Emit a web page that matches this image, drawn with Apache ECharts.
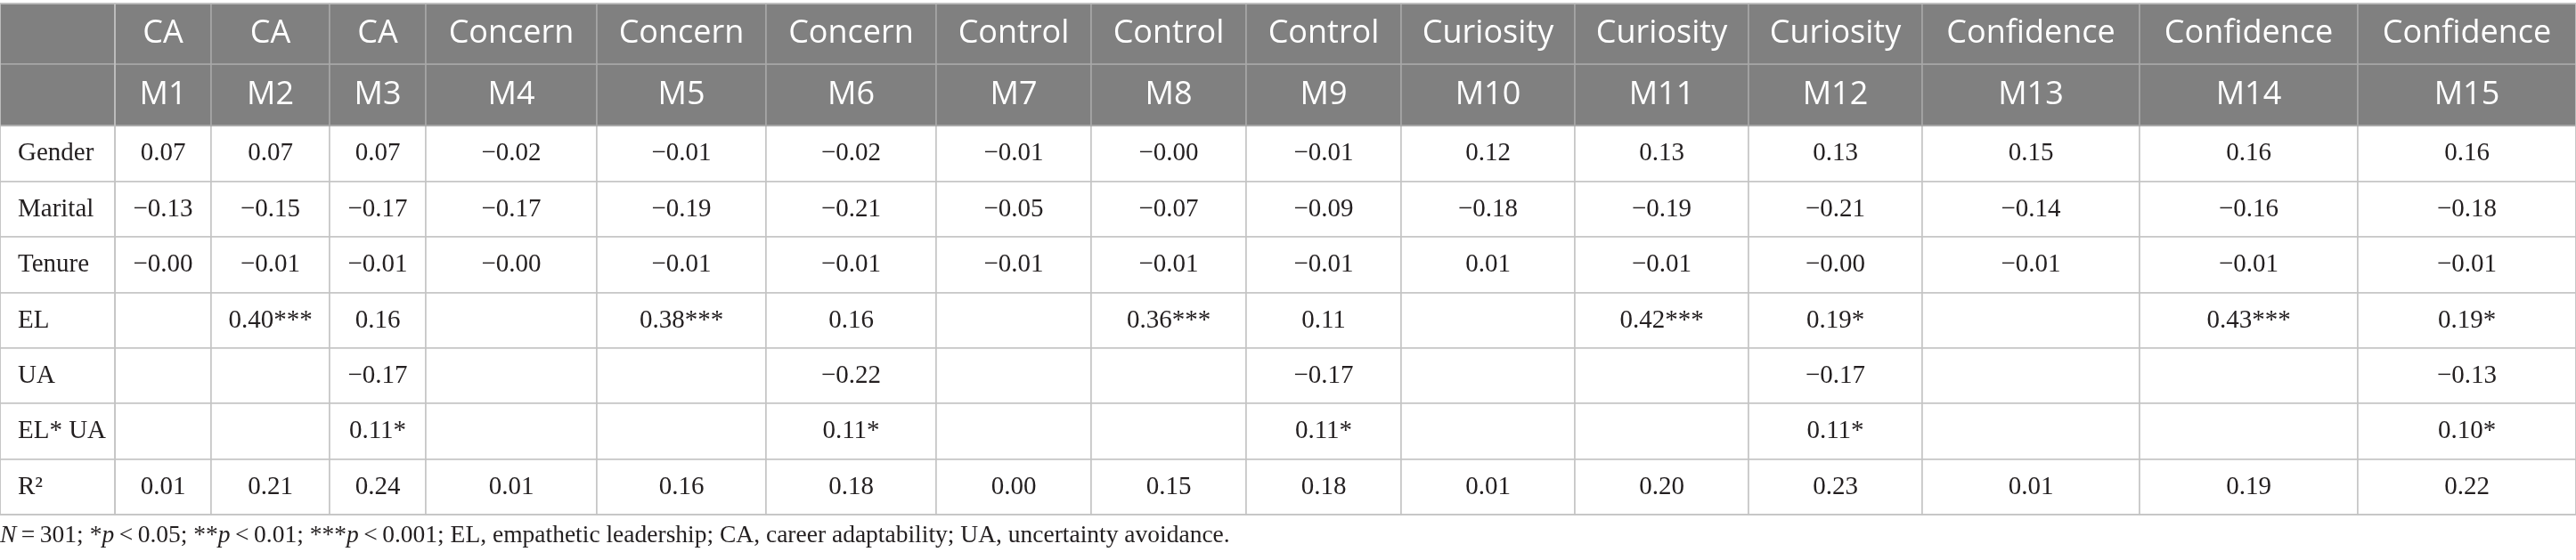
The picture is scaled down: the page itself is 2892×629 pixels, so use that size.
<!DOCTYPE html>
<html>
<head>
<meta charset="UTF-8">
<script src="https://cdn.jsdelivr.net/npm/echarts@6/dist/echarts.min.js"></script>
<style>
  html, body { margin: 0; background: #fff; }
  #c { width: 2892px; height: 629px; }
</style>
</head>
<body>
<div id="c"></div>
<script>
// header: outcome over model number
const outcomes = ['CA', 'CA', 'CA', 'Concern', 'Concern', 'Concern', 'Control', 'Control', 'Control',
  'Curiosity', 'Curiosity', 'Curiosity', 'Confidence', 'Confidence', 'Confidence'];
const models = ['M1', 'M2', 'M3', 'M4', 'M5', 'M6', 'M7', 'M8', 'M9', 'M10', 'M11', 'M12', 'M13', 'M14', 'M15'];

const rowNames = ['Gender', 'Marital', 'Tenure', 'EL', 'UA', 'EL* UA', 'R\u00B2'];

// coefficients, null = empty cell
const gender  = [0.07, 0.07, 0.07, -0.02, -0.01, -0.02, -0.01, -0.00, -0.01, 0.12, 0.13, 0.13, 0.15, 0.16, 0.16];
const marital = [-0.13, -0.15, -0.17, -0.17, -0.19, -0.21, -0.05, -0.07, -0.09, -0.18, -0.19, -0.21, -0.14, -0.16, -0.18];
const tenure  = [-0.00, -0.01, -0.01, -0.00, -0.01, -0.01, -0.01, -0.01, -0.01, 0.01, -0.01, -0.00, -0.01, -0.01, -0.01];
const el      = [null, 0.40, 0.16, null, 0.38, 0.16, null, 0.36, 0.11, null, 0.42, 0.19, null, 0.43, 0.19];
const ua      = [null, null, -0.17, null, null, -0.22, null, null, -0.17, null, null, -0.17, null, null, -0.13];
const elUa    = [null, null, 0.11, null, null, 0.11, null, null, 0.11, null, null, 0.11, null, null, 0.10];
const r2      = [0.01, 0.21, 0.24, 0.01, 0.16, 0.18, 0.00, 0.15, 0.18, 0.01, 0.20, 0.23, 0.01, 0.19, 0.22];

// significance marks
const elStars   = ['', '***', '', '', '***', '', '', '***', '', '', '***', '*', '', '***', '*'];
const elUaStars = ['', '', '*', '', '', '*', '', '', '*', '', '', '*', '', '', '*'];

const note = '{i|N}\u2009=\u2009301; *{i|p}\u2009<\u20090.05; **{i|p}\u2009<\u20090.01; ***{i|p}\u2009<\u20090.001; ' +
  'EL, empathetic leadership; CA, career adaptability; UA, uncertainty avoidance.';

// layout (px)
const labelColWidth = 129;
const colWidths = [108, 133, 108, 192, 190, 191, 174, 174, 174, 195, 195, 195, 244, 245, 245];

const SERIF = '"Liberation Serif", "DejaVu Serif", serif';
const SANS = '"Open Sans", "Noto Sans", sans-serif';
const INK = '#231f20';

function fmt(v) {
  if (v == null) return '';
  const neg = v < 0 || Object.is(v, -0);
  return (neg ? '\u2212' : '') + Math.abs(v).toFixed(2);
}

// matrix needs unique header values: repeated names get trailing zero-width spaces
const seen = {};
const headerTop = outcomes.map(o => {
  seen[o] = (seen[o] || 0) + 1;
  return o + '\u200B'.repeat(seen[o] - 1);
});

const rows = [gender, marital, tenure, el, ua, elUa, r2];
const stars = [null, null, null, elStars, null, elUaStars, null];

const cells = [];
rows.forEach((vals, r) => {
  vals.forEach((v, c) => {
    const s = stars[r] && v != null ? stars[r][c] : '';
    cells.push({ coord: [c, r], value: fmt(v) + s });
  });
});

const chart = echarts.init(document.getElementById('c'), null, { renderer: 'canvas' });
chart.setOption({
  backgroundColor: '#fff',
  animation: false,
  title: {
    left: 0,
    top: 588,
    padding: 0,
    text: note,
    textStyle: {
      fontFamily: SERIF, fontSize: 27.5, fontWeight: 'normal', color: INK,
      rich: { i: { fontFamily: SERIF, fontSize: 27.5, fontStyle: 'italic', color: INK } }
    }
  },
  matrix: {
    left: 0,
    right: 0,
    top: 4,
    height: 574,
    backgroundStyle: { color: '#fff', borderColor: '#c4c4c4', borderWidth: 1.5 },
    x: {
      data: headerTop.map((o, i) => ({
        value: o,
        size: colWidths[i],
        children: [{ value: models[i], size: colWidths[i] }]
      })),
      levels: [{ levelSize: 68 }, { levelSize: 69 }],
      label: { color: '#fff', fontFamily: SANS, fontSize: 36 },
      itemStyle: { color: '#808080', borderColor: '#a8a8a8', borderWidth: 1.5 },
      dividerLineStyle: { color: '#a8a8a8', width: 1.5 }
    },
    y: {
      data: rowNames,
      levelSize: labelColWidth,
      label: {
        color: INK, fontFamily: SERIF, fontSize: 29,
        position: 'insideLeft', distance: 17
      },
      itemStyle: { color: '#fff', borderColor: '#c4c4c4', borderWidth: 1.5 },
      dividerLineStyle: { color: '#c4c4c4', width: 1.5 }
    },
    corner: {
      itemStyle: { color: '#808080', borderColor: '#a8a8a8', borderWidth: 1.5 }
    },
    body: {
      data: cells,
      label: { color: INK, fontFamily: SERIF, fontSize: 29 },
      itemStyle: { color: '#fff', borderColor: '#c4c4c4', borderWidth: 1.5 }
    }
  }
});
</script>
</body>
</html>
